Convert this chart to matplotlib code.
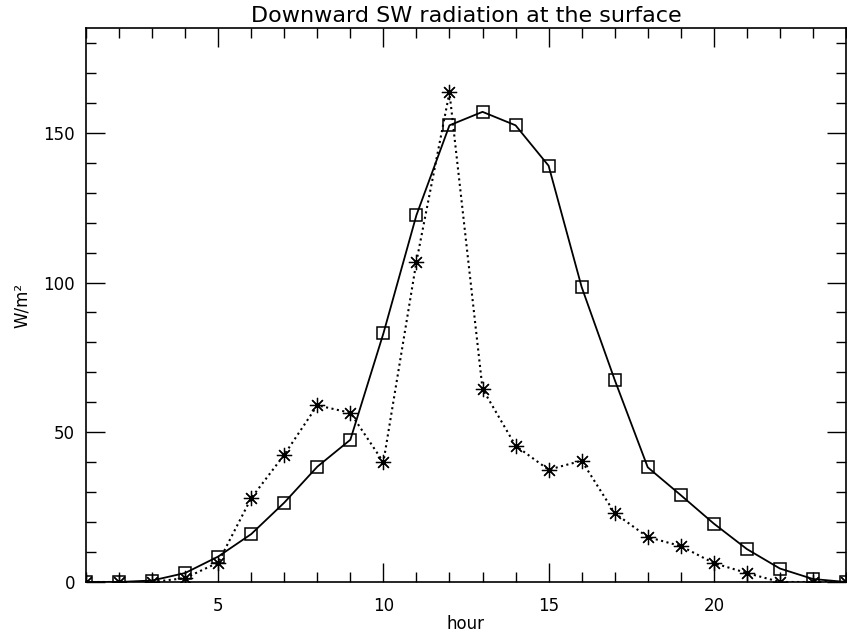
import numpy as np
import matplotlib

matplotlib.use("Agg")
import matplotlib.pyplot as plt
from matplotlib.ticker import MultipleLocator

# hourly downward shortwave radiation at the surface (W/m2)
HOURS = np.arange(1, 25)
SW_SQUARES = [0, 0, 0.5, 3, 8.5, 16, 26.5, 38.5, 47.5, 83, 122.5, 152.5,
              157, 152.5, 139, 98.5, 67.5, 38.3, 29, 19.5, 11, 4.5, 1, 0]
SW_STARS = [0, 0, 0, 1.3, 6.5, 28, 42.5, 59, 56.5, 40, 107, 163.5,
            64.5, 45.5, 37.5, 40.5, 23, 15, 12, 6.3, 3, 0, 0, 0]

X_RANGE = (1, 24)
Y_RANGE = (0, 185)


def main():
    plt.rcParams.update({
        "font.family": ["DejaVu Sans"],
        "font.size": 12,
    })

    fig = plt.figure(figsize=(8.47, 6.37), dpi=100)
    ax = fig.add_axes([86 / 847, 55 / 637, 760 / 847, 554 / 637])

    ax.plot(HOURS, SW_SQUARES, color="black", linewidth=1.3, linestyle="-",
            marker="s", markersize=8.5, markerfacecolor="none",
            markeredgecolor="black", markeredgewidth=1.1)
    ax.plot(HOURS, SW_STARS, color="black", linewidth=1.5, linestyle=":",
            marker=(8, 2, 0), markersize=11, markeredgecolor="black",
            markeredgewidth=0.9)

    ax.set_xlim(*X_RANGE)
    ax.set_ylim(*Y_RANGE)
    ax.xaxis.set_major_locator(MultipleLocator(5))
    ax.xaxis.set_minor_locator(MultipleLocator(1))
    ax.yaxis.set_major_locator(MultipleLocator(50))
    ax.yaxis.set_minor_locator(MultipleLocator(10))
    ax.tick_params(which="both", direction="in", top=True, right=True,
                   color="black", width=1.0, labelsize=12)
    ax.tick_params(which="major", length=14)
    ax.tick_params(which="minor", length=7)
    ax.tick_params(axis="x", which="major", pad=11)
    ax.tick_params(axis="y", which="major", pad=8)
    for spine in ax.spines.values():
        spine.set_linewidth(1.2)

    ax.set_title("Downward SW radiation at the surface", fontsize=16, pad=4)
    ax.set_xlabel("hour", fontsize=12, labelpad=0)
    ax.set_ylabel("W/m²", fontsize=12, labelpad=9)

    fig.savefig("out.png", dpi=100)
    plt.close(fig)


if __name__ == "__main__":
    main()
